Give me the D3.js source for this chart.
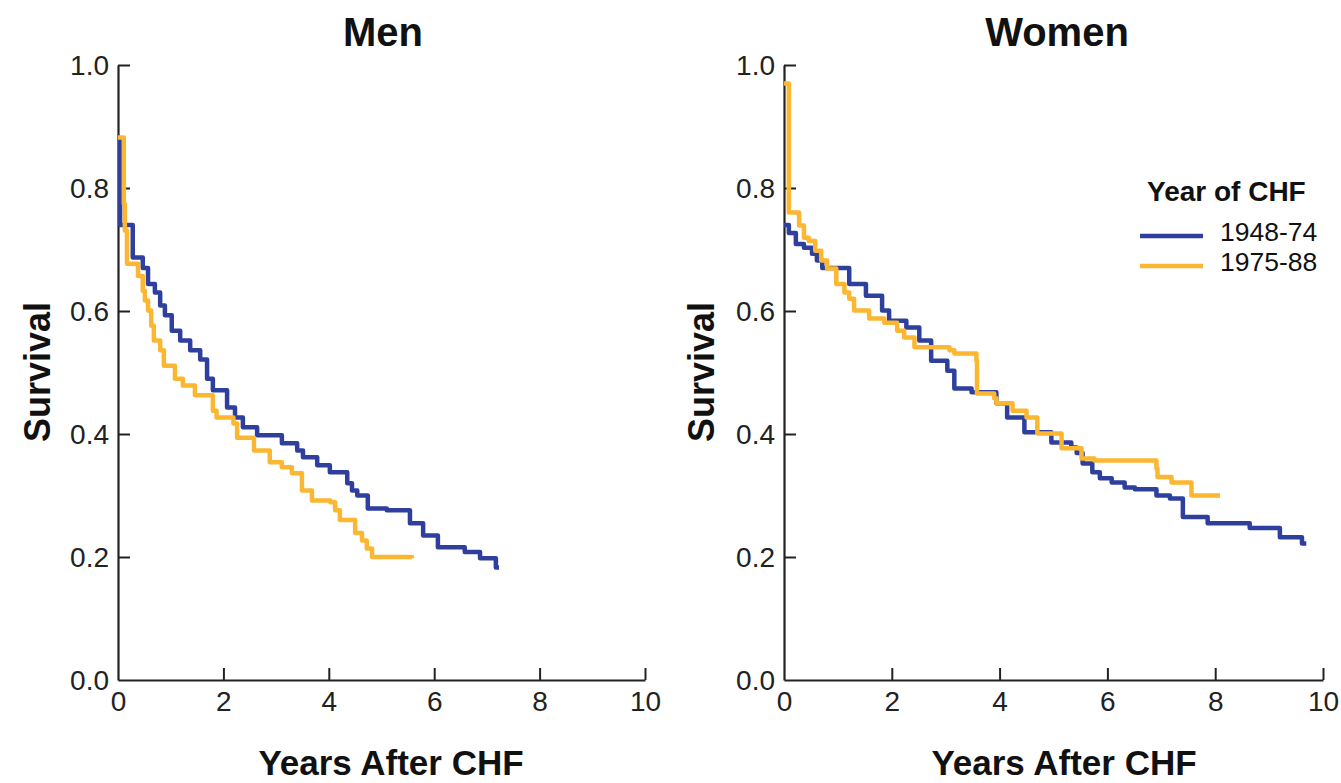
<!DOCTYPE html>
<html>
<head>
<meta charset="utf-8">
<script src="https://cdn.jsdelivr.net/npm/d3@7"></script>
<style>
  html, body { margin: 0; padding: 0; background: #fff; }
  svg { display: block; font-family: "Liberation Sans", Arial, Helvetica, sans-serif; }
</style>
</head>
<body>
<svg id="chart" width="1341" height="783"></svg>
<script>
// ---------------- DATA ----------------
const panelTitles = ["Men", "Women"];
const seriesNames = ["1948-74", "1975-88"];
const xTicks = [0, 2, 4, 6, 8, 10];
const yTicks = [0.0, 0.2, 0.4, 0.6, 0.8, 1.0];

// Kaplan-Meier steps: [years, survival after step]
const menEarly = [
  [0, 0.880], [0.04, 0.740], [0.28, 0.687], [0.47, 0.670], [0.57, 0.644], [0.70, 0.630],
  [0.80, 0.609], [0.89, 0.593], [1.02, 0.568], [1.18, 0.552], [1.37, 0.536], [1.56, 0.521],
  [1.69, 0.490], [1.80, 0.471], [2.07, 0.443], [2.22, 0.427], [2.37, 0.411], [2.64, 0.398],
  [3.11, 0.385], [3.40, 0.373], [3.51, 0.362], [3.78, 0.349], [4.02, 0.338], [4.35, 0.320],
  [4.44, 0.308], [4.54, 0.300], [4.74, 0.279], [5.10, 0.276], [5.54, 0.255], [5.79, 0.235],
  [6.07, 0.216], [6.58, 0.208], [6.87, 0.198], [7.17, 0.183], [7.23, 0.183]
];
const menLate = [
  [0, 0.882], [0.11, 0.774], [0.13, 0.731], [0.17, 0.677], [0.38, 0.657], [0.47, 0.633],
  [0.51, 0.617], [0.57, 0.601], [0.63, 0.576], [0.68, 0.552], [0.80, 0.536], [0.87, 0.511],
  [1.08, 0.490], [1.23, 0.479], [1.46, 0.463], [1.80, 0.438], [1.87, 0.427], [2.19, 0.417],
  [2.26, 0.394], [2.58, 0.373], [2.88, 0.354], [3.11, 0.346], [3.30, 0.336], [3.49, 0.308],
  [3.68, 0.292], [4.03, 0.289], [4.12, 0.276], [4.21, 0.260], [4.50, 0.239], [4.63, 0.227],
  [4.72, 0.214], [4.82, 0.200], [5.58, 0.198]
];
const womenEarly = [
  [0, 0.740], [0.09, 0.727], [0.22, 0.709], [0.37, 0.703], [0.52, 0.693], [0.61, 0.682],
  [0.71, 0.670], [1.21, 0.644], [1.52, 0.625], [1.82, 0.601], [1.95, 0.584], [2.27, 0.573],
  [2.51, 0.552], [2.73, 0.519], [3.03, 0.503], [3.16, 0.474], [3.48, 0.468], [3.94, 0.450],
  [4.14, 0.427], [4.46, 0.403], [4.96, 0.386], [5.33, 0.378], [5.43, 0.369], [5.54, 0.352],
  [5.72, 0.338], [5.86, 0.328], [6.08, 0.321], [6.32, 0.313], [6.51, 0.310], [6.91, 0.300],
  [7.16, 0.295], [7.40, 0.265], [7.86, 0.255], [8.64, 0.247], [9.20, 0.232], [9.61, 0.222],
  [9.69, 0.222]
];
const womenLate = [
  [0, 0.970], [0.09, 0.760], [0.28, 0.739], [0.37, 0.719], [0.46, 0.714], [0.58, 0.698],
  [0.69, 0.682], [0.80, 0.669], [0.97, 0.644], [1.12, 0.630], [1.21, 0.620], [1.30, 0.601],
  [1.58, 0.588], [1.86, 0.581], [2.10, 0.568], [2.23, 0.557], [2.42, 0.541], [3.07, 0.536],
  [3.16, 0.531], [3.57, 0.519], [3.58, 0.466], [3.90, 0.458], [3.94, 0.450], [4.24, 0.438],
  [4.50, 0.427], [4.70, 0.401], [5.15, 0.377], [5.52, 0.360], [5.76, 0.357], [6.91, 0.344],
  [6.93, 0.330], [7.19, 0.321], [7.56, 0.300], [8.09, 0.300]
];

const panelSeries = [[menEarly, menLate], [womenEarly, womenLate]];
const colors = ["#2f3f9e", "#fbb731"];

// ---------------- LAYOUT ----------------
const svg = d3.select("#chart");
const panels = [
  { x0: 118, x1: 645, yLabelX: 50, titleX: 383, xTitleX: 391 },
  { x0: 784, x1: 1323, yLabelX: 714, titleX: 1057, xTitleX: 1064 }
];
const yTop = 65, yBottom = 680;

panels.forEach((p, i) => {
  const x = d3.scaleLinear().domain([0, 10]).range([p.x0, p.x1]);
  const y = d3.scaleLinear().domain([0, 1]).range([yBottom, yTop]);

  const yAxis = svg.append("g")
    .attr("transform", `translate(${p.x0},0)`)
    .call(d3.axisLeft(y).tickValues(yTicks).tickFormat(d3.format(".1f"))
      .tickSizeInner(-12).tickSizeOuter(0).tickPadding(9));
  const xAxis = svg.append("g")
    .attr("transform", `translate(0,${yBottom})`)
    .call(d3.axisBottom(x).tickValues(xTicks).tickFormat(d3.format("d"))
      .tickSizeInner(-12).tickSizeOuter(0).tickPadding(11));

  [yAxis, xAxis].forEach(a => {
    a.select(".domain").attr("stroke", "#222").attr("stroke-width", 2.2);
    a.selectAll(".tick line").attr("stroke", "#222").attr("stroke-width", 2);
    a.selectAll(".tick text").attr("fill", "#222").attr("font-size", 28)
      .attr("font-family", "Liberation Sans, Arial, sans-serif");
  });
  yAxis.selectAll(".tick text").attr("dy", "0.34em");
  xAxis.selectAll(".tick").filter(d => d === 0).select("line").remove();
  yAxis.selectAll(".tick").filter(d => d === 0).select("line").remove();

  const line = d3.line()
    .x(d => x(d[0])).y(d => y(d[1]))
    .curve(d3.curveStepAfter);
  panelSeries[i].forEach((s, k) => {
    svg.append("path")
      .datum(s)
      .attr("fill", "none")
      .attr("stroke", colors[k])
      .attr("stroke-width", 4.5)
      .attr("stroke-linejoin", "round")
      .attr("d", line);
  });

  svg.append("text")
    .attr("x", p.titleX).attr("y", 46)
    .attr("text-anchor", "middle")
    .attr("font-size", 40).attr("font-weight", "bold").attr("fill", "#111")
    .text(panelTitles[i]);
  svg.append("text")
    .attr("x", p.xTitleX).attr("y", 775)
    .attr("text-anchor", "middle")
    .attr("font-size", 35).attr("font-weight", "bold").attr("fill", "#111")
    .text("Years After CHF");
  svg.append("text")
    .attr("transform", `translate(${p.yLabelX},372) rotate(-90)`)
    .attr("text-anchor", "middle")
    .attr("font-size", 36).attr("font-weight", "bold").attr("fill", "#111")
    .text("Survival");
});

// Legend (women panel)
const lg = svg.append("g");
lg.append("text").attr("x", 1147).attr("y", 201)
  .attr("font-size", 28).attr("font-weight", "bold").attr("fill", "#111")
  .text("Year of CHF");
seriesNames.forEach((name, k) => {
  const yy = 236 + k * 30;
  lg.append("line").attr("x1", 1140).attr("x2", 1203).attr("y1", yy).attr("y2", yy)
    .attr("stroke", colors[k]).attr("stroke-width", 4.5);
  lg.append("text").attr("x", 1220).attr("y", yy + 5)
    .attr("font-size", 26.5).attr("fill", "#111").text(name);
});
</script>
</body>
</html>
